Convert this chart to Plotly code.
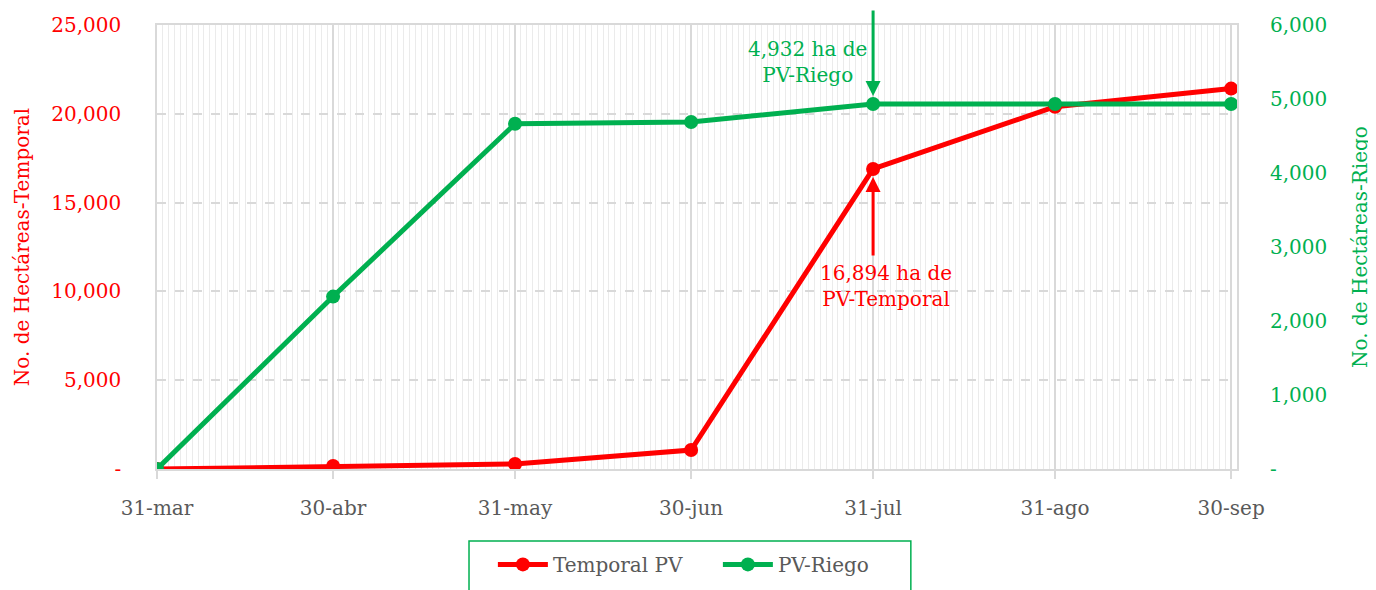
import plotly.graph_objects as go

dates = ["2021-03-31", "2021-04-30", "2021-05-31", "2021-06-30", "2021-07-31", "2021-08-31", "2021-09-30"]
date_labels = ["31-mar", "30-abr", "31-may", "30-jun", "31-jul", "31-ago", "30-sep"]
temporal_pv = [0, 170, 280, 1070, 16894, 20400, 21420]
pv_riego = [0, 2330, 4665, 4690, 4932, 4932, 4932]

left_ticks = [0, 5000, 10000, 15000, 20000, 25000]
left_labels = ["-", "5,000", "10,000", "15,000", "20,000", "25,000"]
right_ticks = [0, 1000, 2000, 3000, 4000, 5000, 6000]
right_labels = ["-", "1,000", "2,000", "3,000", "4,000", "5,000", "6,000"]

RED = "#FF0000"
GREEN = "#00B050"
GRAY = "#595959"
FONT = "DejaVu Serif"
FS = 20

fig = go.Figure()
fig.add_trace(go.Scatter(x=dates, y=temporal_pv, name="Temporal PV", mode="lines+markers",
                         line=dict(color=RED, width=5), marker=dict(size=14, color=RED), yaxis="y"))
fig.add_trace(go.Scatter(x=dates, y=pv_riego, name="PV-Riego", mode="lines+markers",
                         line=dict(color=GREEN, width=5), marker=dict(size=14, color=GREEN), yaxis="y2"))

fig.update_layout(
    width=1376, height=590,
    margin=dict(l=149, r=147, t=17, b=129, autoexpand=False),
    paper_bgcolor="white", plot_bgcolor="white",
    font=dict(family=FONT, size=FS, color=GRAY),
    xaxis=dict(
        type="date", range=["2021-03-31", "2021-10-01"], automargin=False,
        tickmode="array", tickvals=dates, ticktext=date_labels,
        tickfont=dict(size=FS, color=GRAY),
        showgrid=True, gridcolor="#d9d9d9", gridwidth=1.5,
        ticks="outside", ticklen=8, tickcolor="#d9d9d9", tickwidth=1.5,
        minor=dict(dtick=86400000, tick0="2021-03-31", showgrid=True, gridcolor="#ebebeb", gridwidth=1),
        showline=True, mirror=True, linecolor="#d9d9d9", linewidth=1.5,
        zeroline=False, ticklabelstandoff=12,
    ),
    yaxis=dict(
        range=[0, 25000], tickmode="array", tickvals=left_ticks, ticktext=left_labels, automargin=False,
        tickfont=dict(size=FS, color=RED),
        title=dict(text="No. de Hectáreas-Temporal", font=dict(size=FS, color=RED), standoff=16),
        showgrid=True, gridcolor="#d9d9d9", gridwidth=1.5, griddash="dash",
        showline=True, mirror=True, linecolor="#d9d9d9", linewidth=1.5,
        zeroline=False, ticklabelstandoff=30,
    ),
    yaxis2=dict(
        range=[0, 6000], tickmode="array", tickvals=right_ticks, ticktext=right_labels, automargin=False,
        tickfont=dict(size=FS, color=GREEN), overlaying="y", side="right",
        title=dict(text="No. de Hectáreas-Riego", font=dict(size=FS, color=GREEN), standoff=26),
        showgrid=False, zeroline=False, showline=False, ticklabelstandoff=32,
    ),
    legend=dict(
        orientation="h", x=0.311, xanchor="left", y=-0.171, yanchor="top",
        borderwidth=0, font=dict(size=FS, color=GRAY), bgcolor="rgba(0,0,0,0)",
        entrywidth=160, itemwidth=50,
    ),
    showlegend=True,
)

# legend frame
fig.add_shape(type="rect", xref="paper", yref="paper", x0=0.2889, x1=0.698, y0=-0.1622, y1=-0.32,
              line=dict(color=GREEN, width=1.5), fillcolor="rgba(0,0,0,0)", layer="above")

fig.add_annotation(x=dates[4], y=pv_riego[4], yref="y2", text="", showarrow=True,
                   ax=0, ay=-95, arrowhead=2, arrowsize=1, arrowwidth=3, arrowcolor=GREEN, standoff=8)
fig.add_annotation(x=dates[4], y=0.917, yref="paper", yanchor="middle", text="4,932 ha de<br>PV-Riego",
                   showarrow=False, xshift=-66, font=dict(size=FS, color=GREEN))
fig.add_annotation(x=dates[4], y=temporal_pv[4], yref="y", text="", showarrow=True,
                   ax=0, ay=88, arrowhead=2, arrowsize=1, arrowwidth=3, arrowcolor=RED, standoff=8)
fig.add_annotation(x=dates[4], y=0.412, yref="paper", yanchor="middle", text="16,894 ha de<br>PV-Temporal",
                   showarrow=False, xshift=13, font=dict(size=FS, color=RED))

fig.write_html("out.html")
